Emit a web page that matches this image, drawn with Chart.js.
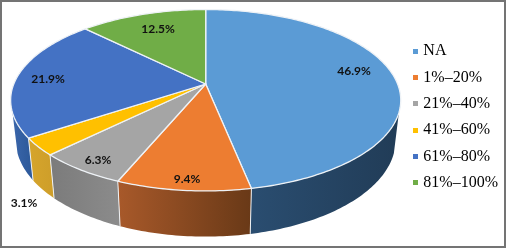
<!DOCTYPE html>
<html><head><meta charset="utf-8">
<style>
html,body{margin:0;padding:0;background:#fff;width:506px;height:248px;overflow:hidden}
#f{position:absolute;left:0;top:0;width:502px;height:244px;border:2px solid #747474;pointer-events:none}
canvas{position:absolute;left:0;top:0}
</style>
<script src="https://cdn.jsdelivr.net/npm/chart.js@4"></script>
</head><body>
<canvas id="c" width="506" height="248"></canvas><div id="f"></div>
<script>
const categories = ['NA','1%–20%','21%–40%','41%–60%','61%–80%','81%–100%'];
const shares = [46.9,9.4,6.3,3.1,21.9,12.5];
const shareLabels = ['46.9%','9.4%','6.3%','3.1%','21.9%','12.5%'];
const topColors = ['#5b9bd5','#ed7d31','#a5a5a5','#ffc000','#4472c4','#70ad47'];
const wallStart = ['#2a4d70','#a8592a','#7b7b7b','#d6a52c','#3a66ab','#507e33'];
const wallEnd   = ['#213c57','#693917','#8b8b8b','#cf9f2a','#2f5b9c','#507e33'];
const labelSpots = [[354,71],[187,179],[98,160],[24,203],[48,79],[158,29]];

const G = {cx:205.7, ay:84, a:191.9, b:87.8, k:-0.179, sx:0.974, wy:122.7, wsy:1.065,
           wallFrom:18*Math.PI/180, wallTo:162*Math.PI/180};
function rimTop(t){const s=Math.sin(t),d=1+G.k*s;return [G.cx+G.a*Math.cos(t)/d, G.ay+G.b*s/d];}
function rimLow(t){const p=rimTop(t);return [G.cx+(p[0]-G.cx)*G.sx, G.wy+(p[1]-G.ay)*G.wsy];}

const pie3d = {
  id:'pie3d',
  beforeDatasetDraw(chart,args){
    const ctx=chart.ctx, arcs=args.meta.data, step=Math.PI/180;
    arcs.forEach((el,i)=>{
      const a0=Math.max(el.startAngle,G.wallFrom), a1=Math.min(el.endAngle,G.wallTo);
      if(a1<=a0) return;
      const n=Math.max(2,Math.ceil((a1-a0)/step));
      ctx.beginPath();
      for(let j=0;j<=n;j++){const p=rimTop(a0+(a1-a0)*j/n); j?ctx.lineTo(p[0],p[1]):ctx.moveTo(p[0],p[1]);}
      for(let j=n;j>=0;j--){const p=rimLow(a0+(a1-a0)*j/n); ctx.lineTo(p[0],p[1]);}
      ctx.closePath();
      const L=rimTop(a1)[0], R=rimTop(a0)[0];
      const g=ctx.createLinearGradient(L,0,R,0);
      g.addColorStop(0,wallStart[i]); g.addColorStop(1,wallEnd[i]);
      ctx.fillStyle=g; ctx.fill();
      ctx.strokeStyle='#eef1f4'; ctx.lineWidth=1;
      ctx.beginPath();
      if(el.startAngle>=G.wallFrom&&el.startAngle<=G.wallTo){const p=rimTop(a0),q=rimLow(a0);ctx.moveTo(p[0],p[1]);ctx.lineTo(q[0],q[1]);}
      ctx.stroke();
    });
    arcs.forEach((el,i)=>{
      const a0=el.startAngle,a1=el.endAngle,n=Math.ceil((a1-a0)/step);
      ctx.beginPath(); ctx.moveTo(G.cx,G.ay);
      for(let j=0;j<=n;j++){const p=rimTop(a0+(a1-a0)*j/n); ctx.lineTo(p[0],p[1]);}
      ctx.closePath();
      ctx.fillStyle=topColors[i]; ctx.fill();
      ctx.strokeStyle='#eef2f6'; ctx.lineWidth=1.3; ctx.lineJoin='round'; ctx.stroke();
    });
    return false;
  },
  afterDatasetsDraw(chart){
    const ctx=chart.ctx;
    ctx.save();
    ctx.font='bold 12px Lato'; ctx.fillStyle='#111'; ctx.textAlign='center'; ctx.textBaseline='middle';
    shareLabels.forEach((s,i)=>ctx.fillText(s,labelSpots[i][0],labelSpots[i][1]));
    ctx.restore();
  }
};

function marker(color){
  const m=document.createElement('canvas'); m.width=5; m.height=5;
  const x=m.getContext('2d'); x.fillStyle=color; x.fillRect(0,0,5,5); return m;
}

new Chart(document.getElementById('c'),{
  type:'pie',
  data:{labels:categories,datasets:[{data:shares,backgroundColor:topColors,borderWidth:0}]},
  options:{
    responsive:false,animation:false,
    layout:{padding:{right:-2,bottom:14,top:0,left:0}},
    plugins:{
      tooltip:{enabled:false},
      legend:{
        position:'right',
        labels:{
          usePointStyle:true,pointStyleWidth:0.1,boxHeight:5,padding:10.3,
          color:'#333',font:{family:'Liberation Serif',size:16},
          generateLabels(chart){
            return categories.map((t,i)=>({text:t,fillStyle:topColors[i],strokeStyle:topColors[i],lineWidth:0,
              pointStyle:marker(topColors[i]),hidden:false,index:i}));
          }
        }
      }
    }
  },
  plugins:[pie3d]
});
</script>
</body></html>
